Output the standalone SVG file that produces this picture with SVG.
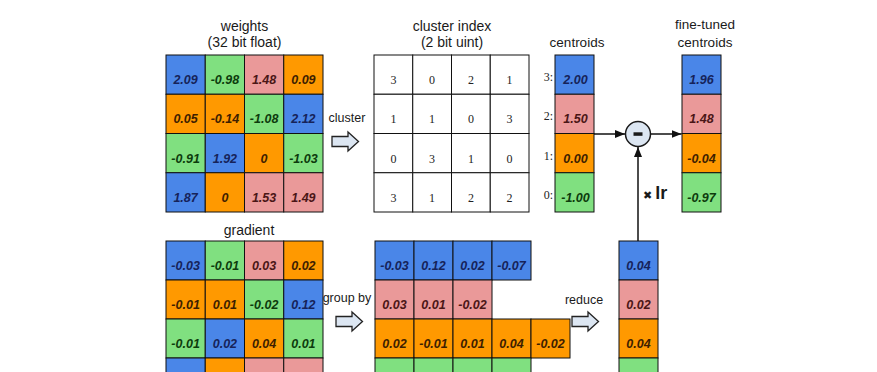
<svg xmlns="http://www.w3.org/2000/svg" width="877" height="372" viewBox="0 0 877 372">
<defs>
<style>
.c{stroke:#111;stroke-width:1}
.B{fill:#4a86e8}.G{fill:#80e080}.P{fill:#ea9999}.O{fill:#ff9900}.W{fill:#fff}
.v{font-family:"Liberation Sans",Arial,sans-serif;font-size:12.5px;font-weight:bold;font-style:italic;text-anchor:middle}
.vB{fill:#16235a}.vG{fill:#0d3b0d}.vP{fill:#4a1616}.vO{fill:#3d1e00}
.idx{font-family:"Liberation Serif","Times New Roman",serif;font-size:12px;fill:#222;text-anchor:middle}
.lab{font-family:"Liberation Serif","Times New Roman",serif;font-size:12px;fill:#222;text-anchor:end}
.t{font-family:"Liberation Sans",Arial,sans-serif;font-size:14px;fill:#1a1a1a;text-anchor:middle}
.t2{font-family:"Liberation Sans",Arial,sans-serif;font-size:12.5px;fill:#1a1a1a;text-anchor:middle}
.t3{font-family:"Liberation Sans",Arial,sans-serif;font-size:13.5px;fill:#1a1a1a;text-anchor:middle}
.arr{fill:#dce6f2;stroke:#222;stroke-width:1.3;stroke-linejoin:miter}
.ln{stroke:#111;stroke-width:1.5;fill:none}
</style>
<marker id="ah" viewBox="0 0 10 8" refX="10" refY="4" markerWidth="10" markerHeight="8" markerUnits="userSpaceOnUse" orient="auto">
<path d="M0,0 L10,4 L0,8 z" fill="#111"/>
</marker>
<path id="bigarrow" d="M0,-5 h16 v-4.5 l10.5,9.5 l-10.5,9.5 v-4.5 h-16 z"/>
</defs>
<rect width="877" height="372" fill="#fff"/>

<g id="weights">
<text class="t" x="244.5" y="31">weights</text>
<text class="t" x="244.5" y="47">(32 bit float)</text>
<rect class="c B" x="166" y="55" width="39.25" height="39.25"/>
<rect class="c G" x="205.25" y="55" width="39.25" height="39.25"/>
<rect class="c P" x="244.5" y="55" width="39.25" height="39.25"/>
<rect class="c O" x="283.75" y="55" width="39.25" height="39.25"/>
<rect class="c O" x="166" y="94.25" width="39.25" height="39.25"/>
<rect class="c O" x="205.25" y="94.25" width="39.25" height="39.25"/>
<rect class="c G" x="244.5" y="94.25" width="39.25" height="39.25"/>
<rect class="c B" x="283.75" y="94.25" width="39.25" height="39.25"/>
<rect class="c G" x="166" y="133.5" width="39.25" height="39.25"/>
<rect class="c B" x="205.25" y="133.5" width="39.25" height="39.25"/>
<rect class="c O" x="244.5" y="133.5" width="39.25" height="39.25"/>
<rect class="c G" x="283.75" y="133.5" width="39.25" height="39.25"/>
<rect class="c B" x="166" y="172.75" width="39.25" height="39.25"/>
<rect class="c O" x="205.25" y="172.75" width="39.25" height="39.25"/>
<rect class="c P" x="244.5" y="172.75" width="39.25" height="39.25"/>
<rect class="c P" x="283.75" y="172.75" width="39.25" height="39.25"/>
<text class="v vB" x="185.6" y="84">2.09</text>
<text class="v vG" x="224.9" y="84">-0.98</text>
<text class="v vP" x="264.1" y="84">1.48</text>
<text class="v vO" x="303.4" y="84">0.09</text>
<text class="v vO" x="185.6" y="123.25">0.05</text>
<text class="v vO" x="224.9" y="123.25">-0.14</text>
<text class="v vG" x="264.1" y="123.25">-1.08</text>
<text class="v vB" x="303.4" y="123.25">2.12</text>
<text class="v vG" x="185.6" y="162.5">-0.91</text>
<text class="v vB" x="224.9" y="162.5">1.92</text>
<text class="v vO" x="264.1" y="162.5">0</text>
<text class="v vG" x="303.4" y="162.5">-1.03</text>
<text class="v vB" x="185.6" y="201.75">1.87</text>
<text class="v vO" x="224.9" y="201.75">0</text>
<text class="v vP" x="264.1" y="201.75">1.53</text>
<text class="v vP" x="303.4" y="201.75">1.49</text>
</g>

<g id="cluster-step">
<text class="t2" x="347" y="122">cluster</text>
<use href="#bigarrow" class="arr" x="332" y="141.5"/>
</g>

<g id="cluster-index">
<text class="t" x="452" y="31">cluster index</text>
<text class="t" x="452" y="47">(2 bit uint)</text>
<rect class="c W" x="374" y="55" width="38.75" height="39.25"/>
<rect class="c W" x="412.75" y="55" width="38.75" height="39.25"/>
<rect class="c W" x="451.5" y="55" width="38.75" height="39.25"/>
<rect class="c W" x="490.25" y="55" width="38.75" height="39.25"/>
<rect class="c W" x="374" y="94.25" width="38.75" height="39.25"/>
<rect class="c W" x="412.75" y="94.25" width="38.75" height="39.25"/>
<rect class="c W" x="451.5" y="94.25" width="38.75" height="39.25"/>
<rect class="c W" x="490.25" y="94.25" width="38.75" height="39.25"/>
<rect class="c W" x="374" y="133.5" width="38.75" height="39.25"/>
<rect class="c W" x="412.75" y="133.5" width="38.75" height="39.25"/>
<rect class="c W" x="451.5" y="133.5" width="38.75" height="39.25"/>
<rect class="c W" x="490.25" y="133.5" width="38.75" height="39.25"/>
<rect class="c W" x="374" y="172.75" width="38.75" height="39.25"/>
<rect class="c W" x="412.75" y="172.75" width="38.75" height="39.25"/>
<rect class="c W" x="451.5" y="172.75" width="38.75" height="39.25"/>
<rect class="c W" x="490.25" y="172.75" width="38.75" height="39.25"/>
<text class="idx" x="393.4" y="84">3</text>
<text class="idx" x="432.1" y="84">0</text>
<text class="idx" x="470.9" y="84">2</text>
<text class="idx" x="509.6" y="84">1</text>
<text class="idx" x="393.4" y="123.25">1</text>
<text class="idx" x="432.1" y="123.25">1</text>
<text class="idx" x="470.9" y="123.25">0</text>
<text class="idx" x="509.6" y="123.25">3</text>
<text class="idx" x="393.4" y="162.5">0</text>
<text class="idx" x="432.1" y="162.5">3</text>
<text class="idx" x="470.9" y="162.5">1</text>
<text class="idx" x="509.6" y="162.5">0</text>
<text class="idx" x="393.4" y="201.75">3</text>
<text class="idx" x="432.1" y="201.75">1</text>
<text class="idx" x="470.9" y="201.75">2</text>
<text class="idx" x="509.6" y="201.75">2</text>
</g>

<g id="centroids">
<text class="t3" x="577" y="47">centroids</text>
<rect class="c B" x="555" y="55" width="39" height="39.25"/>
<rect class="c P" x="555" y="94.25" width="39" height="39.25"/>
<rect class="c O" x="555" y="133.5" width="39" height="39.25"/>
<rect class="c G" x="555" y="172.75" width="39" height="39.25"/>
<text class="lab" x="553" y="81">3:</text>
<text class="lab" x="553" y="120.25">2:</text>
<text class="lab" x="553" y="159.5">1:</text>
<text class="lab" x="553" y="198.75">0:</text>
<text class="v vB" x="575.5" y="84">2.00</text>
<text class="v vP" x="575.5" y="123.25">1.50</text>
<text class="v vO" x="575.5" y="162.5">0.00</text>
<text class="v vG" x="575.5" y="201.75">-1.00</text>
</g>

<g id="subtract">
<circle cx="638" cy="134" r="12.5" fill="#dce6f2" stroke="#1a1a1a" stroke-width="1.5"/>
<rect x="633.5" y="132.3" width="9" height="3.5" fill="#1a1a1a"/>
</g>

<g id="fine-tuned">
<text class="t3" x="705" y="29">fine-tuned</text>
<text class="t3" x="705" y="47">centroids</text>
<rect class="c B" x="682" y="55" width="39" height="39.25"/>
<rect class="c P" x="682" y="94.25" width="39" height="39.25"/>
<rect class="c O" x="682" y="133.5" width="39" height="39.25"/>
<rect class="c G" x="682" y="172.75" width="39" height="39.25"/>
<text class="v vB" x="701.5" y="84">1.96</text>
<text class="v vP" x="701.5" y="123.25">1.48</text>
<text class="v vO" x="701.5" y="162.5">-0.04</text>
<text class="v vG" x="701.5" y="201.75">-0.97</text>
</g>

<g id="lr-label">
<text x="643" y="199" font-family="'Liberation Sans',Arial,sans-serif" font-weight="bold" fill="#1a1a1a"><tspan font-size="11" font-family="'DejaVu Sans',sans-serif">✖</tspan><tspan font-size="18" dx="3">lr</tspan></text>
</g>

<g id="gradient">
<text class="t" x="249" y="235">gradient</text>
<rect class="c B" x="166" y="241" width="39.25" height="39"/>
<rect class="c G" x="205.25" y="241" width="39.25" height="39"/>
<rect class="c P" x="244.5" y="241" width="39.25" height="39"/>
<rect class="c O" x="283.75" y="241" width="39.25" height="39"/>
<rect class="c O" x="166" y="280" width="39.25" height="39"/>
<rect class="c O" x="205.25" y="280" width="39.25" height="39"/>
<rect class="c G" x="244.5" y="280" width="39.25" height="39"/>
<rect class="c B" x="283.75" y="280" width="39.25" height="39"/>
<rect class="c G" x="166" y="319" width="39.25" height="39"/>
<rect class="c B" x="205.25" y="319" width="39.25" height="39"/>
<rect class="c O" x="244.5" y="319" width="39.25" height="39"/>
<rect class="c G" x="283.75" y="319" width="39.25" height="39"/>
<rect class="c B" x="166" y="358" width="39.25" height="39"/>
<rect class="c O" x="205.25" y="358" width="39.25" height="39"/>
<rect class="c P" x="244.5" y="358" width="39.25" height="39"/>
<rect class="c P" x="283.75" y="358" width="39.25" height="39"/>
<text class="v vB" x="185.6" y="270">-0.03</text>
<text class="v vG" x="224.9" y="270">-0.01</text>
<text class="v vP" x="264.1" y="270">0.03</text>
<text class="v vO" x="303.4" y="270">0.02</text>
<text class="v vO" x="185.6" y="309">-0.01</text>
<text class="v vO" x="224.9" y="309">0.01</text>
<text class="v vG" x="264.1" y="309">-0.02</text>
<text class="v vB" x="303.4" y="309">0.12</text>
<text class="v vG" x="185.6" y="348">-0.01</text>
<text class="v vB" x="224.9" y="348">0.02</text>
<text class="v vO" x="264.1" y="348">0.04</text>
<text class="v vG" x="303.4" y="348">0.01</text>
</g>

<g id="group-step">
<text class="t2" x="347" y="302">group by</text>
<use href="#bigarrow" class="arr" x="336" y="321.5"/>
</g>

<g id="grouped">
<rect class="c B" x="375" y="241" width="39" height="39"/>
<rect class="c B" x="414" y="241" width="39" height="39"/>
<rect class="c B" x="453" y="241" width="39" height="39"/>
<rect class="c B" x="492" y="241" width="39" height="39"/>
<rect class="c P" x="375" y="280" width="39" height="39"/>
<rect class="c P" x="414" y="280" width="39" height="39"/>
<rect class="c P" x="453" y="280" width="39" height="39"/>
<rect class="c O" x="375" y="319" width="39" height="39"/>
<rect class="c O" x="414" y="319" width="39" height="39"/>
<rect class="c O" x="453" y="319" width="39" height="39"/>
<rect class="c O" x="492" y="319" width="39" height="39"/>
<rect class="c O" x="531" y="319" width="39" height="39"/>
<rect class="c G" x="375" y="358" width="39" height="39"/>
<rect class="c G" x="414" y="358" width="39" height="39"/>
<rect class="c G" x="453" y="358" width="39" height="39"/>
<rect class="c G" x="492" y="358" width="39" height="39"/>
<text class="v vB" x="394.5" y="270">-0.03</text>
<text class="v vB" x="433.5" y="270">0.12</text>
<text class="v vB" x="472.5" y="270">0.02</text>
<text class="v vB" x="511.5" y="270">-0.07</text>
<text class="v vP" x="394.5" y="309">0.03</text>
<text class="v vP" x="433.5" y="309">0.01</text>
<text class="v vP" x="472.5" y="309">-0.02</text>
<text class="v vO" x="394.5" y="348">0.02</text>
<text class="v vO" x="433.5" y="348">-0.01</text>
<text class="v vO" x="472.5" y="348">0.01</text>
<text class="v vO" x="511.5" y="348">0.04</text>
<text class="v vO" x="550.5" y="348">-0.02</text>
</g>

<g id="reduce-step">
<text class="t2" x="584" y="304">reduce</text>
<use href="#bigarrow" class="arr" x="572" y="321.5"/>
</g>

<g id="reduced">
<rect class="c B" x="619" y="241" width="39" height="39"/>
<rect class="c P" x="619" y="280" width="39" height="39"/>
<rect class="c O" x="619" y="319" width="39" height="39"/>
<rect class="c G" x="619" y="358" width="39" height="39"/>
<text class="v vB" x="638.5" y="270">0.04</text>
<text class="v vP" x="638.5" y="309">0.02</text>
<text class="v vO" x="638.5" y="348">0.04</text>
</g>

<g id="connectors">
<line class="ln" x1="594" y1="134" x2="625" y2="134" marker-end="url(#ah)"/>
<line class="ln" x1="650.5" y1="134" x2="681.5" y2="134" marker-end="url(#ah)"/>
<line class="ln" x1="638" y1="241" x2="638" y2="147" marker-end="url(#ah)"/>
</g>
</svg>
